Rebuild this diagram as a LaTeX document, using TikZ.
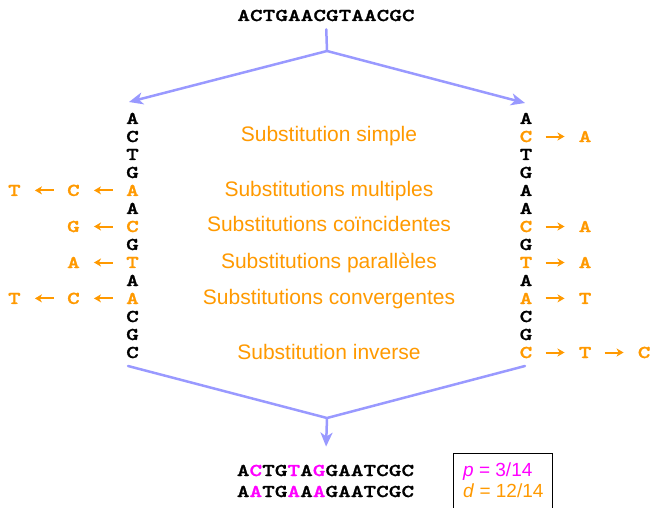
\documentclass[tikz,border=0pt]{standalone}
\usepackage{fontspec}
\setmainfont{Liberation Sans}
\newfontfamily\seqfont{lmmonolt10-bold.otf}[FakeStretch=1.34, FakeBold=1.3]
\usetikzlibrary{arrows.meta, positioning}

\definecolor{subsorange}{RGB}{255,153,0}
\definecolor{hlmag}{RGB}{255,0,255}
\definecolor{flowblue}{RGB}{153,153,255}

\begin{document}
\begin{tikzpicture}[
    x=1pt, y=-1pt,
    nt/.style={font=\seqfont\fontsize{18}{18}\selectfont, inner sep=0pt, anchor=base},
    mut/.style={text=subsorange},
    label/.style={font=\fontsize{21}{21}\selectfont, text=subsorange, inner sep=0pt, anchor=base},
    stat/.style={font=\fontsize{19}{19}\selectfont, inner sep=0pt, anchor=base west},
    flow/.style={draw=flowblue, line width=2.5pt, -{Stealth[length=14pt, width=12pt, inset=4pt]}},
    flowline/.style={draw=flowblue, line width=2.5pt, line cap=round},
    mutarrow/.style={draw=subsorange, line width=2pt, -{Stealth[length=7pt, width=8pt, inset=2pt]}, shorten <=13pt, shorten >=14pt}
]
\clip (0,0) rectangle (654,508);

% Ancestral sequence
\node[nt] (top) at (326,21) {ACTGAACGTAACGC};

% Two descending lineages
\foreach \b/\cl [count=\i] in {A/black,C/black,T/black,G/black,A/subsorange,A/black,C/subsorange,G/black,T/subsorange,A/black,A/subsorange,C/black,G/black,C/black}
    \node[nt, text=\cl] (L\i) at (132.5,124+18*\i-18) {\b};
\foreach \b/\cl [count=\i] in {A/black,C/subsorange,T/black,G/black,A/black,A/black,C/subsorange,G/black,T/subsorange,A/black,A/subsorange,C/black,G/black,C/subsorange}
    \node[nt, text=\cl] (R\i) at (526,124+18*\i-18) {\b};

% Labels of the substitution types
\node[label] (simple) at (329,142) {Substitution simple};
\node[label] (multi) at (329,197) {Substitutions multiples};
\node[label] (coinc) at (329,232) {Substitutions coïncidentes};
\node[label] (para) at (329,269) {Substitutions parallèles};
\node[label] (conv) at (329,305) {Substitutions convergentes};
\node[label] (inv) at (329,359) {Substitution inverse};

% Left lineage: successive changes
\node[nt, mut, left=46pt of L5] (L5a) {C};
\node[nt, mut, left=46pt of L5a] (L5b) {T};
\node[nt, mut, left=46pt of L7] (L7a) {G};
\node[nt, mut, left=46pt of L9] (L9a) {A};
\node[nt, mut, left=46pt of L11] (L11a) {C};
\node[nt, mut, left=46pt of L11a] (L11b) {T};

\draw[mutarrow] (L5) -- (L5a);
\draw[mutarrow] (L5a) -- (L5b);
\draw[mutarrow] (L7) -- (L7a);
\draw[mutarrow] (L9) -- (L9a);
\draw[mutarrow] (L11) -- (L11a);
\draw[mutarrow] (L11a) -- (L11b);

% Right lineage: successive changes
\node[nt, mut, right=46pt of R2] (R2a) {A};
\node[nt, mut, right=46pt of R7] (R7a) {A};
\node[nt, mut, right=46pt of R9] (R9a) {A};
\node[nt, mut, right=46pt of R11] (R11a) {T};
\node[nt, mut, right=46pt of R14] (R14a) {T};
\node[nt, mut, right=46pt of R14a] (R14b) {C};

\draw[mutarrow] (R2) -- (R2a);
\draw[mutarrow] (R7) -- (R7a);
\draw[mutarrow] (R9) -- (R9a);
\draw[mutarrow] (R11) -- (R11a);
\draw[mutarrow] (R14) -- (R14a);
\draw[mutarrow] (R14a) -- (R14b);

% Observed sequences
\node[nt] (seqA) at (325.5,476) {A\textcolor{hlmag}{C}TG\textcolor{hlmag}{T}A\textcolor{hlmag}{G}GAATCGC};
\node[nt] (seqB) at (325.5,497) {A\textcolor{hlmag}{A}TG\textcolor{hlmag}{A}A\textcolor{hlmag}{A}GAATCGC};

% Distances
\node[draw, line width=1pt, minimum width=99pt, minimum height=70pt, anchor=north west] (statbox) at (453,453) {};
\node[stat, text=hlmag] (pval) at (463,476.5) {\textit{p} = 3/14};
\node[stat, text=subsorange] (dval) at (463,497) {\textit{d} = 12/14};

% Branching connectors
\coordinate (forkT) at (327,51);
\coordinate (inL) at (129,102);
\coordinate (inR) at (525,103);
\coordinate (outL) at (128,366);
\coordinate (outR) at (525,366);
\coordinate (forkB) at (327,418);

\draw[flowline, shorten <=8pt] (top.south) -- (forkT);
\draw[flow] (forkT) -- (inL);
\draw[flow] (forkT) -- (inR);
\draw[flowline] (outL) -- (forkB) -- (outR);
\draw[flow, shorten >=18pt] (forkB) -- (seqA.north);

\end{tikzpicture}
\end{document}
